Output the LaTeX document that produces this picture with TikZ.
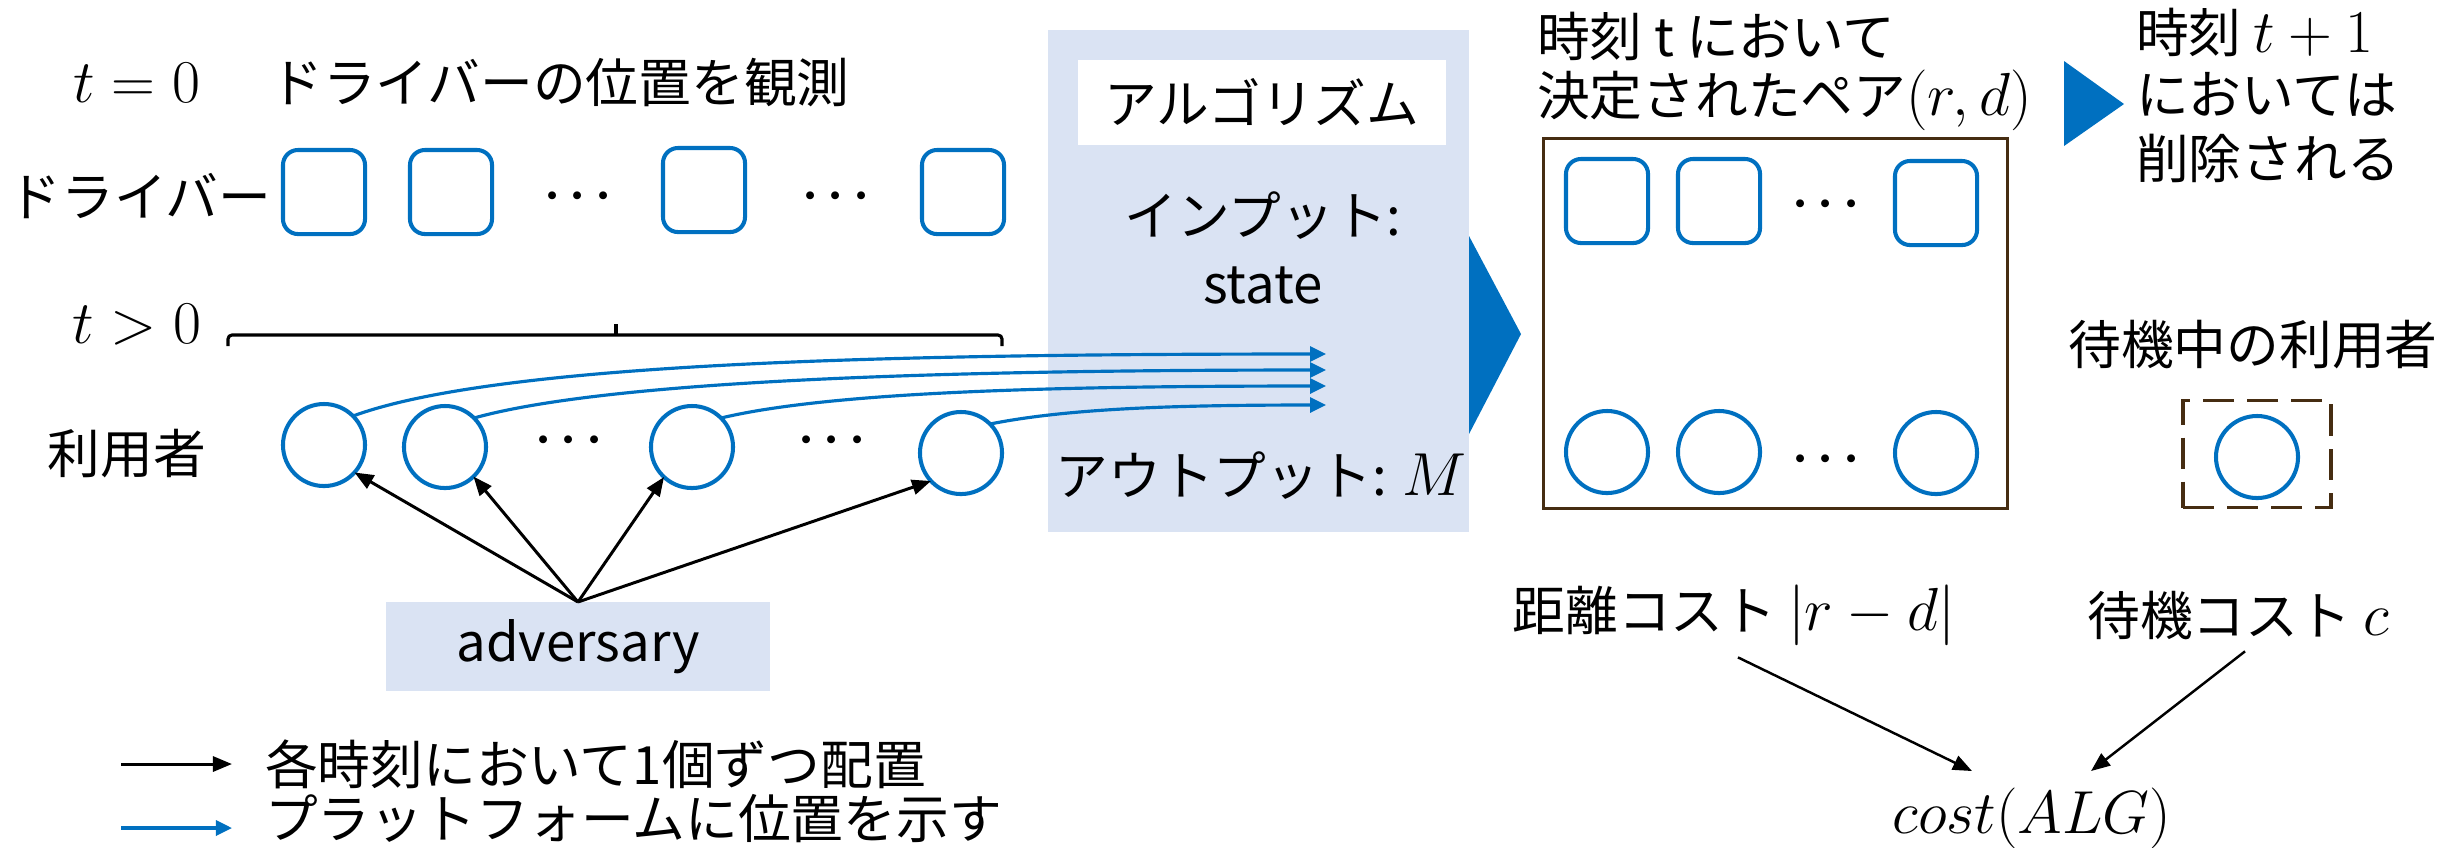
\documentclass[tikz,border=0pt]{standalone}
\usepackage{fontspec}
\setmainfont{Noto Sans CJK JP}
\usetikzlibrary{arrows.meta,calc}
\definecolor{mblue}{HTML}{0070C0}
\definecolor{lblue}{HTML}{DAE3F3}
\definecolor{brn}{RGB}{70,45,18}
\newcommand\mth[1]{{\fontsize{18}{20}\selectfont$#1$}}
\begin{document}
\begin{tikzpicture}[x=0.01cm,y=-0.01cm,
  every node/.style={font=\fontsize{15}{18}\selectfont, inner sep=0pt, outer sep=0pt},
  drv/.style={draw=mblue, line width=1.15pt, rounded corners=0.15cm, minimum width=0.82cm, minimum height=0.84cm},
  usr/.style={circle, draw=mblue, line width=1.15pt, minimum size=0.82cm},
  karrow/.style={draw=black, line width=0.85pt, -{Triangle[length=0.19cm,width=0.15cm]}},
  barrow/.style={draw=mblue, line width=0.9pt, -{Triangle[length=0.16cm,width=0.15cm]}},
  dotsn/.style={font=\fontsize{15}{18}\selectfont\boldmath},
  bluebox/.style={fill=lblue}
]
\useasboundingbox (0,0) rectangle (2464,847);

% ---------- left part ----------
\node (t0) at (137,83) {\mth{t=0}};
\node (obs) at (560,83) {ドライバーの位置を観測};
\node (drvlbl) at (140,196) {ドライバー};
\node[drv] (d1) at (324,192) {};
\node[drv] (d2) at (451,192) {};
\node[drv] (d3) at (704,190) {};
\node[drv] (d4) at (963,192) {};
\node[dotsn] (dd1) at (578,196) {$\cdots$};
\node[dotsn] (dd2) at (836,196) {$\cdots$};

\node (tg0) at (137,325) {\mth{t>0}};
\draw[line width=0.9pt, rounded corners=0.04cm] (228,346) -- (228,335) -- (1002,335) -- (1002,346);
\draw[line width=0.9pt] (616,335) -- (616,324);

\node (usrlbl) at (127,454) {利用者};

% algorithm box (behind arrows)
\node[bluebox, minimum width=4.21cm, minimum height=5.02cm] (alg) at (1258.5,281) {};
\node[fill=white, minimum width=3.68cm, minimum height=0.85cm] (algt) at (1262,102.5) {アルゴリズム};
\node (inp) at (1263,216) {インプット:};
\node (state) at (1263,285) {state};
\node (outp) at (1261,476) {アウトプット: \mth{M}};
\fill[mblue] (1469,236) -- (1521,334) -- (1469,434) -- cycle;

\node[usr] (c1) at (324,445) {};
\node[usr] (c2) at (445,447) {};
\node[usr] (c3) at (692,447) {};
\node[usr] (c4) at (961,453) {};
\node[dotsn] (cd1) at (569,440) {$\cdots$};
\node[dotsn] (cd2) at (832,440) {$\cdots$};

\coordinate (a1) at (1326,354);
\coordinate (a2) at (1326,370);
\coordinate (a3) at (1326,386);
\coordinate (a4) at (1326,405);
\draw[barrow] (c1.45) .. controls (500,362) and (900,354) .. (a1);
\draw[barrow] (c2.45) .. controls (610,380) and (950,370) .. (a2);
\draw[barrow] (c3.45) .. controls (830,392) and (1050,386) .. (a3);
\draw[barrow] (c4.45) .. controls (1070,408) and (1180,405) .. (a4);

\node[bluebox, minimum width=3.84cm, minimum height=0.89cm] (adv) at (578,646.5) {adversary};
\draw[karrow] (adv.north) -- (c1.-42);
\draw[karrow] (adv.north) -- (c2.-46);
\draw[karrow] (adv.north) -- (c3.-133);
\draw[karrow] (adv.north) -- (c4.-137);

% legend
\coordinate (l1s) at (121,764);
\coordinate (l1e) at (232,764);
\coordinate (l2s) at (121,828);
\coordinate (l2e) at (232,828);
\draw[karrow] (l1s) -- (l1e);
\draw[barrow] (l2s) -- (l2e);
\node[anchor=west] (leg1) at (265,764) {各時刻において1個ずつ配置};
\node[anchor=west] (leg2) at (265,819) {プラットフォームに位置を示す};

% ---------- right part ----------
\node[anchor=west] (tt) at (1537,36) {時刻 t において};
\node[anchor=west] (pair) at (1537,100) {決定されたペア\mth{(r,d)}};
\node[draw=brn, line width=0.9pt, minimum width=4.64cm, minimum height=3.70cm] (res) at (1775.5,323.5) {};
\node[drv] (r1) at (1607,201) {};
\node[drv] (r2) at (1719,201) {};
\node[drv] (r3) at (1936,203) {};
\node[dotsn] (rd1) at (1826,204) {$\cdots$};
\node[usr] (u1) at (1607,452) {};
\node[usr] (u2) at (1719,452) {};
\node[usr] (u3) at (1936,453) {};
\node[dotsn] (ud1) at (1826,459) {$\cdots$};

\fill[mblue] (2064,61) -- (2124,104) -- (2064,146) -- cycle;
\node[anchor=west] (nt1) at (2136,32) {時刻 \mth{t+1}};
\node[anchor=west] (nt2) at (2136,94) {においては};
\node[anchor=west] (nt3) at (2136,158) {削除される};

\node (waitlbl) at (2253,345) {待機中の利用者};
\node[draw=brn, line width=1.1pt, dash pattern=on 0.31cm off 0.13cm, minimum width=1.48cm, minimum height=1.07cm] (wait) at (2257,454) {};
\node[usr] (wu) at (2257,457) {};

\node (dist) at (1734,615) {距離コスト \mth{|r-d|}};
\node (wc) at (2238,615) {待機コスト \mth{c}};
\node[font=\fontsize{19}{22}\selectfont] (cost) at (2032,818) {$cost(ALG)$};
\coordinate (e1) at (1972,771);
\coordinate (e2) at (2091,771);
\draw[karrow, line width=0.7pt] ($(dist.south)+(4,12)$) -- (e1);
\draw[karrow, line width=0.7pt] ($(wc.south)+(7,12)$) -- (e2);
\end{tikzpicture}
\end{document}
